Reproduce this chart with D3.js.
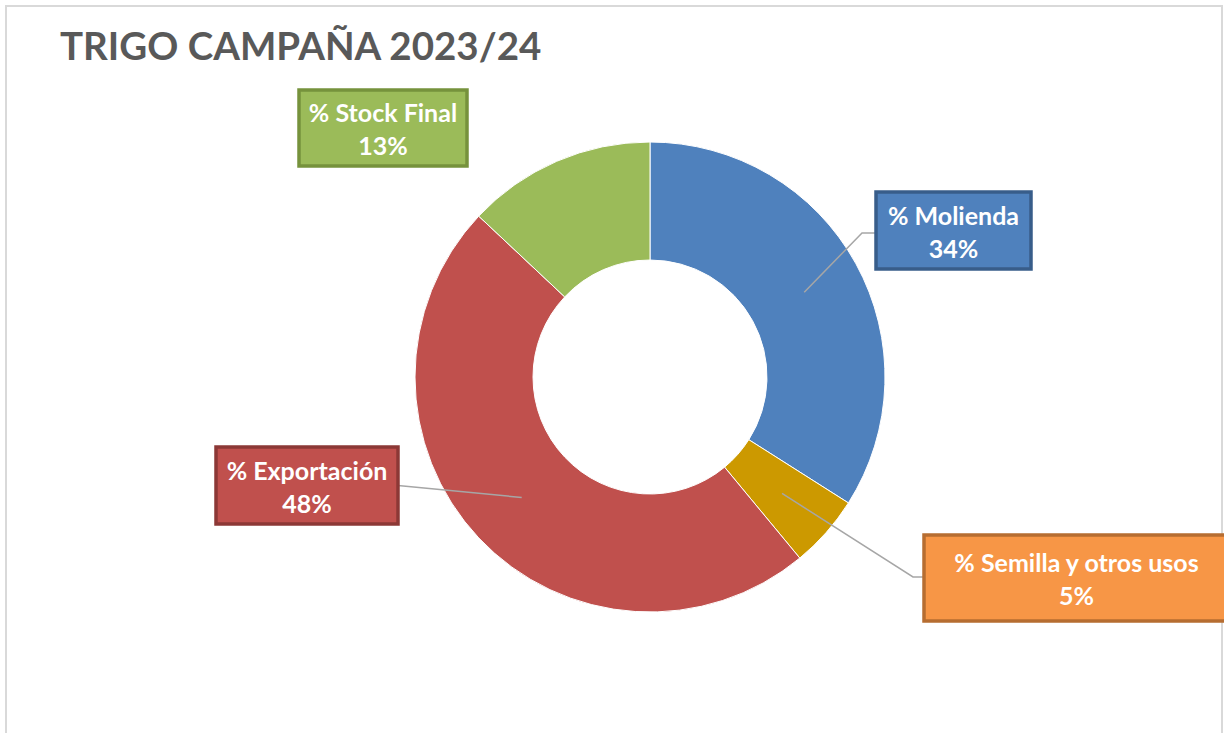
<!DOCTYPE html>
<html lang="es">
<head>
    <meta charset="UTF-8">
    <title>Trigo campaña 2023/24</title>
    <script src="https://cdn.jsdelivr.net/npm/d3@7"></script>
    <style>
        body { margin: 0; background: #fff; }
        .label-text { font-family: Lato, "Open Sans", sans-serif; font-weight: bold; fill: #fff; }
    </style>
</head>
<body>
<svg id="chart" width="1224" height="733"></svg>
<script>
    // data
    var categories = ['% Molienda', '% Semilla y otros usos', '% Exportación', '% Stock Final'];
    var values = [34, 5, 48, 13];
    var fills = ['#4f81bd', '#cc9900', '#c0504d', '#9bbb59'];
    var boxFills = ['#4f81bd', '#f79646', '#c0504d', '#9bbb59'];
    var boxStrokes = ['#385d8a', '#b66d31', '#8c3836', '#76923c'];

    // label boxes: x, y, w, h, and elbow point of the leader line (null = no line)
    var boxes = [
        {x: 876, y: 192, w: 155, h: 77, elbow: [862, 233]},
        {x: 924, y: 535, w: 305, h: 86, elbow: [913, 577]},
        {x: 216, y: 447, w: 182, h: 77, elbow: null},
        {x: 299, y: 90, w: 168, h: 76, elbow: null, noLine: true}
    ];

    var svg = d3.select('#chart');
    var cx = 650, cy = 377, outerR = 235, innerR = 117;

    // chart frame
    svg.append('rect')
        .attr('x', 6).attr('y', 6)
        .attr('width', 1216).attr('height', 760)
        .attr('fill', '#fff')
        .attr('stroke', '#d9d9d9')
        .attr('stroke-width', 2);

    svg.append('text')
        .attr('x', 60).attr('y', 60)
        .attr('font-family', 'Lato, "Open Sans", sans-serif')
        .attr('font-weight', 'bold')
        .attr('font-size', 38.5)
        .attr('fill', '#595959')
        .text('TRIGO CAMPAÑA 2023/24');

    var data = categories.map(function (c, i) {
        return {name: c, value: values[i], i: i};
    });

    var pie = d3.pie()
        .sort(null)
        .value(function (d) { return d.value; });

    var arc = d3.arc()
        .innerRadius(innerR)
        .outerRadius(outerR);

    var arcs = pie(data);

    var g = svg.append('g')
        .attr('transform', 'translate(' + cx + ',' + cy + ')');

    g.selectAll('.slice')
        .data(arcs)
        .enter()
        .append('path')
        .attr('class', 'slice')
        .attr('d', arc)
        .attr('fill', function (d) { return fills[d.data.i]; })
        .attr('stroke', '#fff')
        .attr('stroke-width', 1);

    // leader lines
    arcs.forEach(function (d) {
        var b = boxes[d.data.i];
        if (b.noLine) { return; }
        var c = arc.centroid(d);
        var start = [cx + c[0], cy + c[1]];
        var pts;
        if (b.elbow) {
            var edgeX = b.x > cx ? b.x : b.x + b.w;
            pts = [start, b.elbow, [edgeX, b.elbow[1]]];
        } else {
            pts = [start, [b.x + b.w, b.y + b.h / 2]];
        }
        svg.append('path')
            .attr('d', d3.line()(pts))
            .attr('fill', 'none')
            .attr('stroke', '#a6a6a6')
            .attr('stroke-width', 1.5);
    });

    // label boxes
    arcs.forEach(function (d) {
        var i = d.data.i;
        var b = boxes[i];
        var lg = svg.append('g');
        lg.append('rect')
            .attr('x', b.x).attr('y', b.y)
            .attr('width', b.w).attr('height', b.h)
            .attr('fill', boxFills[i])
            .attr('stroke', boxStrokes[i])
            .attr('stroke-width', 3.5);
        lg.append('text')
            .attr('class', 'label-text')
            .attr('x', b.x + b.w / 2)
            .attr('y', b.y + b.h / 2 - 6)
            .attr('text-anchor', 'middle')
            .attr('font-size', 25)
            .text(d.data.name);
        lg.append('text')
            .attr('class', 'label-text')
            .attr('x', b.x + b.w / 2)
            .attr('y', b.y + b.h / 2 + 27)
            .attr('text-anchor', 'middle')
            .attr('font-size', 25)
            .text(d.data.value + '%');
    });
</script>
</body>
</html>
